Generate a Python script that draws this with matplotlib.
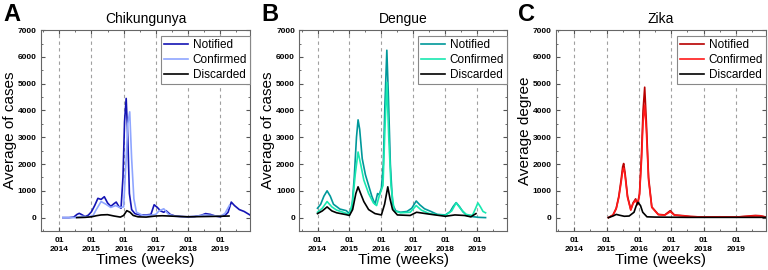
import matplotlib.pyplot as plt
from matplotlib.ticker import MultipleLocator

plt.rcParams['font.family'] = ['Liberation Sans', 'DejaVu Sans']

# time in fractional years
chik_not_t = [2014.11, 2014.3, 2014.45, 2014.55, 2014.62, 2014.7, 2014.8, 2014.9, 2015.0, 2015.1, 2015.2,
              2015.3, 2015.4, 2015.5, 2015.6, 2015.7, 2015.77, 2015.85, 2015.92, 2015.98, 2016.03, 2016.08,
              2016.13, 2016.18, 2016.25, 2016.35, 2016.5, 2016.7, 2016.85, 2016.95, 2017.05, 2017.15, 2017.25,
              2017.32, 2017.45, 2017.6, 2017.8, 2018.0, 2018.2, 2018.4, 2018.55, 2018.7, 2018.85, 2019.0,
              2019.15, 2019.25, 2019.35, 2019.45, 2019.6, 2019.75, 2019.93]
chik_not_v = [0, 0, 20, 120, 160, 110, 40, 90, 220, 450, 720, 680, 780, 550, 420, 520, 580, 420, 350, 1500, 3600, 4450,
              3000, 900, 300, 150, 100, 100, 120, 480, 380, 250, 200, 260, 120, 60, 40, 30, 40, 80, 150, 120, 60, 30,
              80, 200, 580, 450, 300, 230, 100]
chik_conf_t = [2014.11, 2014.5, 2014.7, 2014.9, 2015.05, 2015.15, 2015.3, 2015.45, 2015.6, 2015.75, 2015.88,
               2016.0, 2016.08, 2016.13, 2016.19, 2016.25, 2016.32, 2016.4, 2016.6, 2016.85, 2017.0, 2017.1,
               2017.25, 2017.4, 2017.6, 2017.9, 2018.2, 2018.5, 2018.75, 2019.0, 2019.15, 2019.29]
chik_conf_v = [0, 0, 50, 30, 80, 300, 600, 500, 380, 450, 380, 400, 2200, 3500, 3950, 2200, 700, 200, 80, 90, 120, 250,
               330, 120, 50, 30, 40, 100, 80, 50, 150, 450]
chik_disc_t = [2014.54, 2014.8, 2015.0, 2015.15, 2015.3, 2015.5, 2015.7, 2015.9, 2016.0, 2016.1, 2016.2, 2016.3,
               2016.45, 2016.7, 2017.0, 2017.2, 2017.6, 2018.0, 2018.5, 2019.0, 2019.28]
chik_disc_v = [0, 10, 30, 70, 100, 110, 60, 20, 80, 260, 200, 80, 30, 20, 60, 70, 50, 30, 40, 50, 60]

den_not_t = [2014.0, 2014.1, 2014.2, 2014.3, 2014.4, 2014.5, 2014.7, 2014.9, 2015.0, 2015.08, 2015.15, 2015.22,
             2015.27, 2015.32, 2015.4, 2015.5, 2015.6, 2015.7, 2015.8, 2015.88, 2015.93, 2016.0, 2016.06,
             2016.11, 2016.17, 2016.22, 2016.28, 2016.35, 2016.45, 2016.6, 2016.8, 2016.95, 2017.09, 2017.2,
             2017.35, 2017.55, 2017.75, 2018.0, 2018.15, 2018.25, 2018.34, 2018.45, 2018.55, 2018.7, 2018.9,
             2019.05, 2019.26]
den_not_v = [350, 500, 800, 1000, 800, 500, 320, 260, 150, 400, 1500, 3000, 3650, 3300, 2200, 1600, 1200, 800, 500,
             900, 850, 1100, 2000, 4200, 6250, 4500, 2000, 500, 250, 200, 230, 350, 620, 480, 330, 230, 120, 100, 220,
             420, 560, 400, 220, 60, 30, 10, 0]
den_conf_t = [2014.0, 2014.15, 2014.3, 2014.45, 2014.6, 2014.8, 2015.0, 2015.1, 2015.18, 2015.27, 2015.35,
              2015.45, 2015.6, 2015.75, 2015.85, 2015.93, 2016.05, 2016.11, 2016.17, 2016.23, 2016.3, 2016.4,
              2016.6, 2016.9, 2017.09, 2017.25, 2017.5, 2017.8, 2018.0, 2018.2, 2018.34, 2018.5, 2018.65,
              2018.85, 2018.95, 2019.02, 2019.1, 2019.18, 2019.26]
den_conf_v = [200, 350, 600, 400, 280, 200, 120, 600, 1600, 2450, 2000, 1400, 900, 550, 450, 800, 1200, 3300, 5050,
              3000, 1200, 250, 180, 200, 450, 280, 150, 100, 80, 250, 550, 300, 120, 80, 350, 550, 400, 230, 180]
den_disc_t = [2014.0, 2014.15, 2014.3, 2014.45, 2014.6, 2014.9, 2015.0, 2015.1, 2015.2, 2015.27, 2015.35,
              2015.45, 2015.6, 2015.8, 2016.0, 2016.1, 2016.2, 2016.27, 2016.35, 2016.5, 2016.9, 2017.1,
              2017.5, 2018.0, 2018.3, 2018.6, 2018.8, 2018.96]
den_disc_v = [150, 250, 400, 250, 180, 110, 80, 300, 900, 1150, 900, 600, 300, 150, 100, 500, 1150, 700, 300, 100,
              80, 200, 130, 50, 100, 80, 30, 150]

zika_not_t = [2015.06, 2015.2, 2015.3, 2015.38, 2015.45, 2015.5, 2015.53, 2015.57, 2015.65, 2015.75, 2015.82,
              2015.9, 2015.96, 2016.02, 2016.08, 2016.13, 2016.18, 2016.23, 2016.3, 2016.4, 2016.6, 2016.8,
              2016.97, 2017.1, 2017.4, 2017.6, 2018.0, 2018.5, 2019.0, 2019.3, 2019.6, 2019.75, 2019.93]
zika_not_v = [0, 100, 350, 800, 1400, 1900, 2020, 1700, 800, 300, 550, 700, 500, 900, 2300, 4000, 4870, 3600, 1500,
              400, 120, 100, 260, 100, 70, 40, 20, 30, 20, 50, 80, 70, 20]
zika_conf_v = [0, 90, 330, 750, 1300, 1750, 1850, 1600, 750, 280, 520, 650, 480, 850, 2100, 3600, 4200, 3300, 1400,
               380, 110, 90, 220, 90, 60, 40, 20, 30, 20, 40, 60, 60, 20]
zika_disc_t = [2015.06, 2015.2, 2015.3, 2015.4, 2015.55, 2015.7, 2015.85, 2015.92, 2015.97, 2016.05, 2016.12,
               2016.25, 2016.5, 2017.0, 2017.5, 2018.0, 2019.0, 2019.93]
zika_disc_v = [0, 60, 120, 90, 50, 60, 200, 450, 570, 450, 200, 30, 20, 15, 10, 10, 10, 10]

years = [2014, 2015, 2016, 2017, 2018, 2019]
year_labels = ['01\n%d' % y for y in years]

panels = [
    ('A', 'Chikungunya', 'Average of cases', 'Times (weeks)', 0.0534, 0.272,
     [(chik_not_t, chik_not_v, '#1414b4', 'Notified'),
      (chik_conf_t, chik_conf_v, '#8fa6ff', 'Confirmed'),
      (chik_disc_t, chik_disc_v, 'black', 'Discarded')]),
    ('B', 'Dengue', 'Average of cases', 'Time (weeks)', 0.3897, 0.2704,
     [(den_not_t, den_not_v, '#00989a', 'Notified'),
      (den_conf_t, den_conf_v, '#19e8b0', 'Confirmed'),
      (den_disc_t, den_disc_v, 'black', 'Discarded')]),
    ('C', 'Zika', 'Average degree', 'Time (weeks)', 0.7236, 0.2738,
     [(zika_not_t, zika_not_v, '#b80000', 'Notified'),
      (zika_not_t, zika_conf_v, '#ff1a1a', 'Confirmed'),
      (zika_disc_t, zika_disc_v, 'black', 'Discarded')]),
]

fig = plt.figure(figsize=(7.68, 2.70), dpi=100)

for letter, title, ylab, xlab, left, width, series in panels:
    ax = fig.add_axes([left, 0.1444, width, 0.744])
    for xs in years:
        ax.axvline(xs, color='#a0a0a0', lw=0.8, ls=(0, (3, 3)), zorder=0)
    for t, v, c, lab in series:
        ax.plot(t, v, color=c, lw=1.2, label=lab)
    ax.set_xlim(2013.43, 2019.93)
    ax.set_ylim(-500, 7000)
    ax.set_xticks(years)
    ax.set_xticklabels(year_labels, fontsize=6, fontweight='bold', linespacing=1.4)
    ax.yaxis.set_major_locator(MultipleLocator(1000))
    ax.yaxis.set_minor_locator(MultipleLocator(500))
    ax.xaxis.set_minor_locator(MultipleLocator(0.5))
    ax.tick_params(axis='y', labelsize=6, pad=3)
    ax.tick_params(axis='x', pad=4)
    for lbl in ax.get_yticklabels():
        lbl.set_fontweight('bold')
    ax.tick_params(which='both', direction='in', top=True, right=True, color='#555555')
    ax.tick_params(which='major', length=3)
    ax.tick_params(which='minor', length=1.5)
    for s in ax.spines.values():
        s.set_color('#666666')
    ax.set_title(title, fontsize=10, pad=5)
    ax.set_ylabel(ylab, fontsize=11)
    ax.yaxis.set_label_coords(-0.115, 0.5)
    ax.set_xlabel(xlab, fontsize=11, va='top')
    ax.xaxis.set_label_coords(0.5, -0.11)
    leg = ax.legend(loc='upper right', bbox_to_anchor=(1.0, 0.97), fontsize=8.5, handlelength=2.0,
                    borderaxespad=0, fancybox=False, framealpha=1, borderpad=0.25, labelspacing=0.25,
                    handletextpad=0.4)
    leg.get_frame().set_edgecolor('#888888')
    leg.get_frame().set_linewidth(0.8)
    fig.text(left - 0.049, 0.99, letter, fontsize=17, fontweight='bold', va='top', ha='left')

fig.savefig('out.png', dpi=100)
